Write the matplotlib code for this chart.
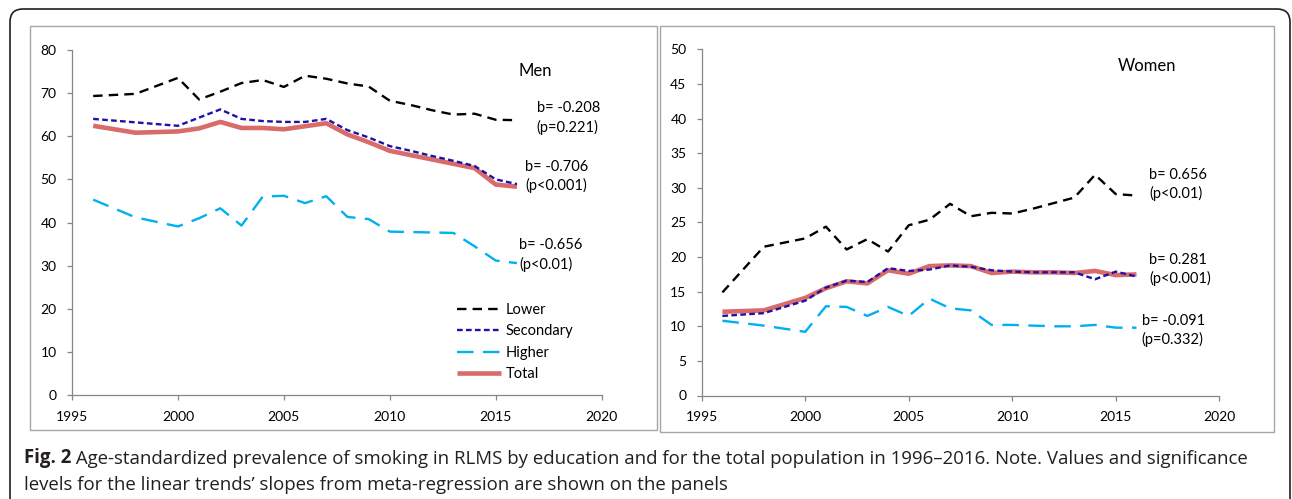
import matplotlib.pyplot as plt
import matplotlib.patches as mpatches
import matplotlib.transforms as mtrans
import numpy as np

plt.rcParams['font.family'] = ['Lato', 'DejaVu Sans']

# survey rounds
years = [1996, 1998, 2000, 2001, 2002, 2003, 2004, 2005, 2006, 2007,
         2008, 2009, 2010, 2011, 2012, 2013, 2014, 2015, 2016]

# men, % smokers
men_lower = [69.3, 69.8, 73.5, 68.5, 70.3, 72.3, 73.0, 71.4, 74.0, 73.3,
             72.2, 71.5, 68.2, 67.2, 66.0, 65.0, 65.2, 63.8, 63.7]
men_secondary = [64.0, 63.2, 62.4, 64.3, 66.2, 64.0, 63.5, 63.3, 63.3, 64.0,
                 61.4, 59.7, 57.7, 56.6, 55.4, 54.3, 53.1, 50.0, 48.9]
men_higher = [45.3, 41.2, 39.1, 41.0, 43.3, 39.3, 46.0, 46.2, 44.5, 46.1,
              41.3, 40.8, 37.9, 37.8, 37.7, 37.6, 34.5, 31.2, 30.6]
men_total = [62.4, 60.8, 61.1, 61.8, 63.3, 61.9, 61.9, 61.6, 62.3, 63.0,
             60.4, 58.6, 56.6, 55.6, 54.6, 53.6, 52.6, 48.8, 48.3]

# women, % smokers
women_lower = [14.9, 21.5, 22.7, 24.4, 21.1, 22.6, 20.8, 24.6, 25.4, 27.7,
               25.9, 26.4, 26.3, 27.0, 27.8, 28.6, 31.9, 29.1, 28.9]
women_secondary = [11.5, 11.9, 13.7, 15.6, 16.6, 16.4, 18.4, 18.0, 18.2, 18.8,
                   18.6, 18.1, 17.9, 17.8, 17.8, 17.8, 16.8, 17.9, 17.2]
women_higher = [10.8, 10.1, 9.2, 12.9, 12.8, 11.5, 12.8, 11.5, 14.0, 12.6,
                12.3, 10.2, 10.2, 10.1, 10.0, 10.0, 10.2, 9.8, 9.8]
women_total = [12.1, 12.3, 14.1, 15.5, 16.5, 16.2, 18.1, 17.6, 18.7, 18.8,
               18.7, 17.7, 17.9, 17.8, 17.8, 17.7, 18.0, 17.4, 17.5]

labels = ['Lower', 'Secondary', 'Higher', 'Total']
men_slopes = ['b= -0.208\n(p=0.221)', 'b= -0.706\n(p<0.001)', 'b= -0.656\n(p<0.01)']
women_slopes = ['b= 0.656\n(p<0.01)', 'b= 0.281\n(p<0.001)', 'b= -0.091\n(p=0.332)']

W, H = 1292, 499
fig = plt.figure(figsize=(W / 100, H / 100), dpi=100)
ident = mtrans.IdentityTransform()

# outer frame and panel boxes (pixel coords, y from top)
fig.add_artist(mpatches.FancyBboxPatch((10, -30), 1280, H - 9 + 30,
               boxstyle='round,pad=0,rounding_size=13', fill=False,
               edgecolor='#231f20', lw=1.2, transform=ident))
fig.add_artist(mpatches.Rectangle((30, H - 429.5), 627, 403.5, fill=False,
               edgecolor='#a6a6a6', lw=1.0, transform=ident))
fig.add_artist(mpatches.Rectangle((660, H - 432), 614, 406, fill=False,
               edgecolor='#a6a6a6', lw=1.0, transform=ident))

ax1 = fig.add_axes([72 / W, 1 - 395.3 / H, 529.7 / W, 345.5 / H])
ax2 = fig.add_axes([701.7 / W, 1 - 395.5 / H, 517.6 / W, 346 / H])

styles = [dict(color='black', lw=1.7, dashes=(4, 2.6), zorder=3),
          dict(color='#2010a8', lw=1.7, dashes=(2.4, 1.4), zorder=3),
          dict(color='#00b0f0', lw=1.7, dashes=(7, 4), zorder=3),
          dict(color='#d96b6b', lw=3.3, solid_capstyle='butt', zorder=2)]

for ax, data, ymax, step in [
        (ax1, [men_lower, men_secondary, men_higher, men_total], 80, 10),
        (ax2, [women_lower, women_secondary, women_higher, women_total], 50, 5)]:
    for vals, st, lab in zip(data, styles, labels):
        ax.plot(years, vals, label=lab, **st)
    ax.set_xlim(1995, 2020)
    ax.set_ylim(0, ymax)
    ax.set_xticks(np.arange(1995, 2021, 5))
    ax.set_yticks(np.arange(0, ymax + 1, step))
    for s in ['top', 'right']:
        ax.spines[s].set_visible(False)
    for s in ['left', 'bottom']:
        ax.spines[s].set_color('#868686')
        ax.spines[s].set_linewidth(0.9)
    ax.tick_params(axis='both', direction='out', length=3.5, width=0.9,
                   color='#868686', labelsize=10, labelcolor='black')
    ax.tick_params(axis='y', pad=7.5)
    ax.tick_params(axis='x', pad=8)
    ax.patch.set_visible(False)

# panel titles and slopes
ax1.text(2016.85, 75.0, 'Men', fontsize=12, ha='center', va='center')
ax1.text(2016.93, 64.2, men_slopes[0], fontsize=10.5, va='center', linespacing=1.35)
ax1.text(2016.4, 50.7, men_slopes[1], fontsize=10.5, va='center', linespacing=1.35)
ax1.text(2016.1, 32.5, men_slopes[2], fontsize=10.5, va='center', linespacing=1.35)

ax2.text(2016.5, 47.6, 'Women', fontsize=12, ha='center', va='center')
ax2.text(2016.6, 30.5, women_slopes[0], fontsize=10.5, va='center', linespacing=1.35)
ax2.text(2016.6, 18.2, women_slopes[1], fontsize=10.5, va='center', linespacing=1.35)
ax2.text(2016.25, 9.35, women_slopes[2], fontsize=10.5, va='center', linespacing=1.35)

ax1.legend(loc='upper left', bbox_to_anchor=(0.727, 0.268), frameon=False,
           fontsize=10.5, handlelength=3.0, handletextpad=0.35,
           labelspacing=0.52, borderpad=0, borderaxespad=0)

# caption
cap_font = ['Open Sans', 'DejaVu Sans']
t1 = fig.text(24 / W, 1 - 458 / H, 'Fig. 2', fontsize=13.4, fontweight='bold',
              family=cap_font, va='center', color='#231f20')
plt.annotate(' Age-standardized prevalence of smoking in RLMS by education and for the total '
             'population in 1996\u20132016. Note. Values and significance',
             xy=(1, 0), xycoords=t1, va='bottom', ha='left', fontsize=13.4,
             family=cap_font, color='#231f20', annotation_clip=False)
fig.text(24 / W, 1 - 485 / H, 'levels for the linear trends\u2019 slopes from meta-regression '
         'are shown on the panels', fontsize=13.4, family=cap_font, va='center',
         color='#231f20')

fig.savefig('out.png', dpi=100)
